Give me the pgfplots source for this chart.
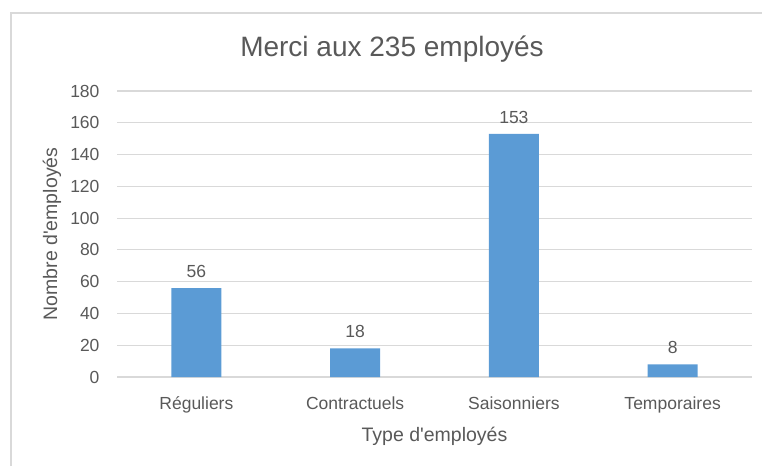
\documentclass[border=0pt]{standalone}
\usepackage{pgfplots}
\pgfplotsset{compat=1.18}
\usepackage{fontspec}
\setmainfont{Liberation Sans}
\definecolor{txt}{HTML}{595959}
\definecolor{grd}{HTML}{D9D9D9}
\definecolor{bar}{HTML}{5B9BD5}
\begin{document}
\begin{tikzpicture}[x=1pt,y=1pt]
\useasboundingbox (0,0) rectangle (762,466);
\draw[grd, line width=1.5pt] (11,0) -- (11,453) -- (762,453);
\node[text=txt, font=\fontsize{28}{34}\selectfont] at (392,417) {Merci aux 235 employés};
\begin{axis}[
  at={(117pt,89pt)}, anchor=south west,
  scale only axis, width=635pt, height=286pt,
  xmin=-0.5, xmax=3.5, ymin=0, ymax=180,
  ytick={0,20,...,180},
  xtick=data,
  xticklabels={Réguliers,Contractuels,Saisonniers,Temporaires},
  axis line style={draw=none},
  major tick length=0pt,
  ymajorgrids, grid style={grd, line width=1.1pt},
  ticklabel style={text=txt, font=\fontsize{17.5}{21}\selectfont},
  yticklabel style={anchor=east, xshift=-14pt},
  xticklabel style={anchor=north, yshift=-16pt},
  /pgf/number format/assume math mode=true,
  xlabel={Type d\textquotesingle employés}, ylabel={Nombre d\textquotesingle employés},
  label style={text=txt, font=\fontsize{19.5}{23}\selectfont},
  xlabel style={at={(axis description cs:0.5,-0.2065)}, anchor=center},
  ylabel style={at={(axis description cs:-0.1025,0.5)}, anchor=center},
  nodes near coords,
  every node near coord/.append style={text=txt, font=\fontsize{17.5}{21}\selectfont, yshift=7pt},
]
\addplot[ybar, bar width=50pt, fill=bar, draw=none] coordinates {(0,56) (1,18) (2,153) (3,8)};
\end{axis}
\end{tikzpicture}
\end{document}
